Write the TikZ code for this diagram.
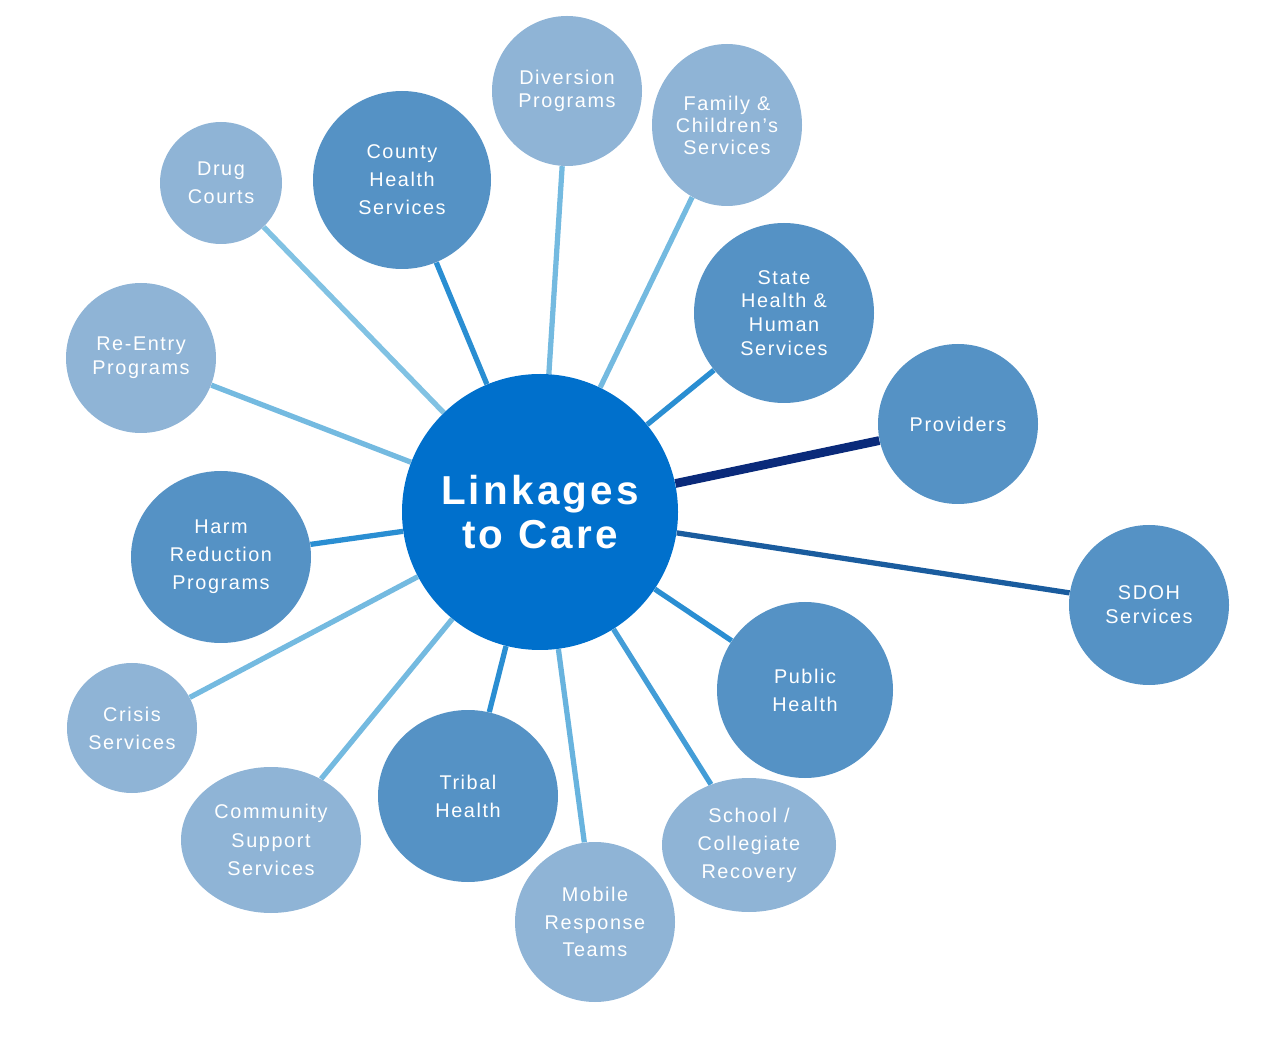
\documentclass[tikz,border=0pt]{standalone}
\usepackage{fontspec}
\setmainfont{Liberation Sans}
\usetikzlibrary{backgrounds,shapes.geometric}
\definecolor{hubblue}{HTML}{0070CC}
\definecolor{darkdisc}{HTML}{5592C5}
\definecolor{lightdisc}{HTML}{8FB4D6}
\definecolor{linklight}{HTML}{A6D8EA}
\definecolor{linkmid}{HTML}{2A8ED2}
\definecolor{linknavy}{HTML}{0A2A7A}
\definecolor{linksdoh}{HTML}{1A5C9E}

\begin{document}
\begin{tikzpicture}[x=0.02cm,y=-0.02cm,
  hub/.style={circle,fill=hubblue,minimum size=276*0.02cm,text=white,
    font=\addfontfeatures{LetterSpace=8}\fontsize{23}{25}\selectfont\bfseries,align=center,inner sep=0pt},
  darkone/.style={circle,fill=darkdisc,text=white,align=center,inner sep=0pt,
    font=\addfontfeatures{LetterSpace=8}\fontsize{11.3}{16}\selectfont},
  lightone/.style={darkone,fill=lightdisc},
  oval/.style={ellipse,inner sep=0pt},
  link/.style={line width=3pt}]
  \useasboundingbox (0,0) rectangle (1275,1050);
  % Hub
  \node[hub] (hub) at (540,512) {Linkages\\to Care};
  % Outer discs
  \node[lightone,minimum size=122*0.02cm] (drug) at (221,183) {Drug\\Courts};
  \node[darkone,minimum size=178*0.02cm] (county) at (402,180) {County\\Health\\Services};
  \node[lightone,minimum size=150*0.02cm,font=\addfontfeatures{LetterSpace=8}\fontsize{11.3}{13.5}\selectfont] (diversion) at (567,91) {Diversion\\Programs};
  \node[lightone,oval,minimum width=150*0.02cm,minimum height=162*0.02cm,font=\addfontfeatures{LetterSpace=8}\fontsize{11.3}{12.5}\selectfont] (family) at (727,125) {Family \&\\Children’s\\Services};
  \node[darkone,minimum size=180*0.02cm,font=\addfontfeatures{LetterSpace=8}\fontsize{11.3}{13.5}\selectfont] (state) at (784,313) {State\\Health \&\\Human\\Services};
  \node[darkone,minimum size=160*0.02cm] (providers) at (958,424) {Providers};
  \node[darkone,minimum size=160*0.02cm,font=\addfontfeatures{LetterSpace=8}\fontsize{11.3}{13.5}\selectfont] (sdoh) at (1149,605) {SDOH\\Services};
  \node[darkone,minimum size=176*0.02cm] (public) at (805,690) {Public\\Health};
  \node[lightone,oval,minimum width=174*0.02cm,minimum height=134*0.02cm] (school) at (749,845) {School /\\Collegiate\\Recovery};
  \node[lightone,minimum size=160*0.02cm,font=\addfontfeatures{LetterSpace=8}\fontsize{11.3}{15.5}\selectfont] (mobile) at (595,922) {Mobile\\Response\\Teams};
  \node[darkone,oval,minimum width=180*0.02cm,minimum height=172*0.02cm] (tribal) at (468,796) {Tribal\\Health};
  \node[lightone,oval,minimum width=180*0.02cm,minimum height=146*0.02cm] (community) at (271,840) {Community\\Support\\Services};
  \node[lightone,minimum size=130*0.02cm] (crisis) at (132,728) {Crisis\\Services};
  \node[darkone,oval,minimum width=180*0.02cm,minimum height=172*0.02cm] (harm) at (221,557) {Harm\\Reduction\\Programs};
  \node[lightone,minimum size=150*0.02cm,font=\addfontfeatures{LetterSpace=8}\fontsize{11.3}{13.5}\selectfont] (reentry) at (141,358) {Re-Entry\\Programs};
  % Connectors
  \begin{scope}[on background layer]
    \draw[link,left color=linkmid,right color=linklight,draw=linklight!70!linkmid] (hub) -- (drug);
    \draw[link,draw=linkmid] (hub) -- (county);
    \draw[link,draw=linklight!60!linkmid] (hub) -- (diversion);
    \draw[link,draw=linklight!60!linkmid] (hub) -- (family);
    \draw[link,draw=linkmid] (hub) -- (state);
    \draw[line width=5pt,draw=linknavy] (hub) -- (providers);
    \draw[link,draw=linksdoh] (hub) -- (sdoh);
    \draw[link,draw=linkmid] (hub) -- (public);
    \draw[link,draw=linkmid!80!linklight] (hub) -- (school);
    \draw[link,draw=linklight!50!linkmid] (hub) -- (mobile);
    \draw[link,draw=linkmid] (hub) -- (tribal);
    \draw[link,draw=linklight!60!linkmid] (hub) -- (community);
    \draw[link,draw=linklight!60!linkmid] (hub) -- (crisis);
    \draw[link,draw=linkmid] (hub) -- (harm);
    \draw[link,draw=linklight!60!linkmid] (hub) -- (reentry);
  \end{scope}
\end{tikzpicture}
\end{document}
